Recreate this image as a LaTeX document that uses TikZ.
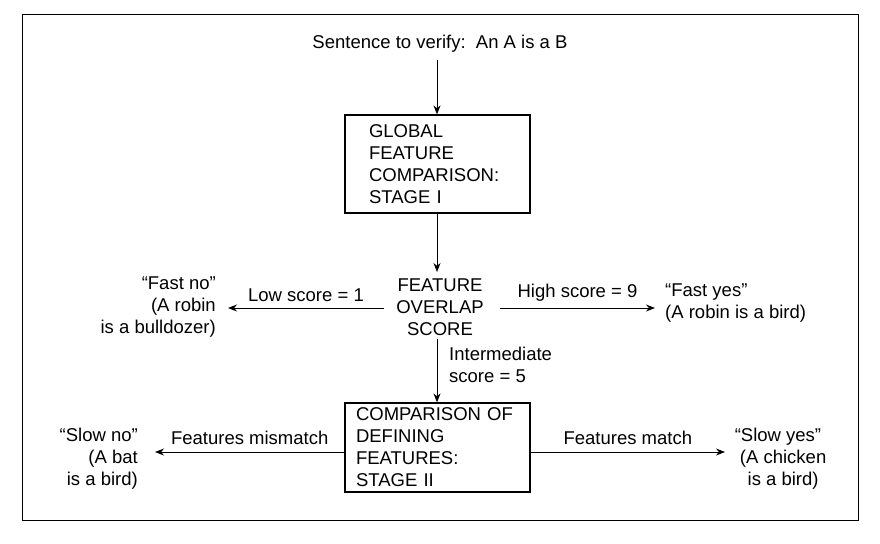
\documentclass[tikz,border=0pt]{standalone}
\usepackage{fontspec}
\setmainfont{Liberation Sans}
\usetikzlibrary{arrows.meta}
\begin{document}
\begin{tikzpicture}[x=1pt,y=-1pt,
  every node/.style={font=\fontsize{18.5}{22}\selectfont, inner sep=0pt},
  arr/.style={-{Stealth[length=9pt,width=7pt]}, line width=1pt},
  stagebox/.style={draw, line width=1.2pt, align=left, inner ysep=0pt}]
\useasboundingbox (0,0) rectangle (880,543);
\draw[line width=1pt] (22,15) rectangle (858,520);
\node (s) at (440,44) {Sentence to verify:\ \ An A is a B};
\node[stagebox, minimum height=98pt, inner xsep=24pt, text width=137pt] (b1) at (437.5,164) {GLOBAL\\FEATURE\\COMPARISON:\\STAGE I};
\node[align=center] (f) at (440,307) {FEATURE\\OVERLAP\\SCORE};
\node[stagebox, minimum height=89pt, inner xsep=11pt, text width=163pt] (b2) at (437.5,447.5) {COMPARISON OF\\DEFINING\\FEATURES:\\STAGE II};
\node[align=right, anchor=east] (fn) at (216,307) {“Fast no”\\(A robin\\is a bulldozer)};
\node[align=left, anchor=west] (fy) at (665,303) {“Fast yes”\\(A robin is a bird)};
\node[align=right, anchor=east] (sn) at (138,459) {“Slow no”\\(A bat\\is a bird)};
\node[align=center] (sy) at (778,459) {“Slow yes”\\\ \ (A chicken\\\ \ is a bird)};
\coordinate (fL) at (384,308); \coordinate (fR) at (500,308);
\draw[arr] (437,60) -- (b1.north -| 437,0);
\draw[arr] (b1.south -| 437,0) -- (437,272);
\draw[arr] (fL) -- (228,308) node[midway, above=6pt] {Low score = 1};
\draw[arr] (fR) -- (655,308) node[midway, above=6pt] {High score = 9};
\draw[arr] (437,339) -- (b2.north -| 437,0);
\node[align=left, anchor=north west] (im) at (449,347) {Intermediate\\score = 5};
\draw[arr] (b2.west |- 0,452) -- (155,452) node[midway, above=7pt] {Features mismatch};
\draw[arr] (b2.east |- 0,452) -- (725,452) node[midway, above=7pt] {Features match};
\end{tikzpicture}
\end{document}
